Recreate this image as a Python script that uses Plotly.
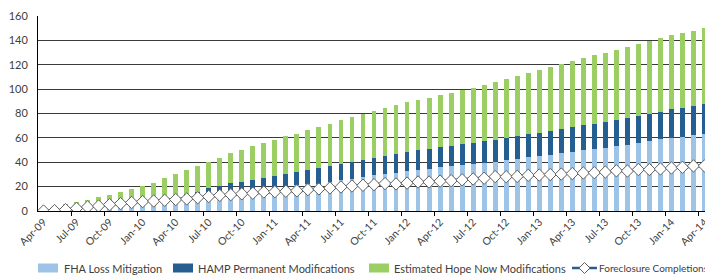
import plotly.graph_objects as go
import pandas as pd

# ---------------- data ----------------
months = [p.strftime("%b-%y") for p in pd.period_range("2009-04", "2014-04", freq="M")]

fha_loss_mitigation = [
    0.0, 0.1, 0.3, 0.6, 1.0, 1.5, 2.0, 2.7, 3.4, 4.2,
    5.0, 6.0, 8.5, 9.5, 10.5, 11.6, 13.0, 14.5, 16.0, 17.0,
    17.8, 19.0, 20.0, 21.0, 21.9, 22.5, 23.8, 25.6, 26.6, 27.9,
    29.3, 30.4, 31.5, 32.7, 33.8, 34.7, 35.9, 36.8, 37.9, 38.9,
    39.5, 40.5, 41.6, 43.0, 44.4, 45.2, 46.3, 47.7, 48.8, 50.1,
    50.7, 52.1, 53.2, 54.5, 56.2, 57.3, 58.9, 60.0, 61.1, 62.2,
    63.3]

hamp_permanent = [
    0.0, 0.1, 0.2, 0.2, 0.3, 0.5, 0.8, 1.1, 1.6, 2.3,
    3.3, 4.5, 4.5, 4.7, 5.1, 6.9, 7.4, 8.2, 8.0, 8.4,
    9.3, 9.8, 10.4, 11.0, 11.8, 12.8, 13.2, 13.3, 13.9, 14.3,
    14.3, 14.8, 15.3, 15.8, 16.3, 16.3, 16.6, 16.6, 16.9, 16.9,
    17.9, 17.9, 18.4, 18.4, 18.6, 19.2, 19.5, 19.7, 20.2, 20.3,
    20.8, 20.8, 21.6, 21.7, 21.9, 22.4, 22.7, 23.3, 23.6, 23.8,
    24.1]

hope_now = [
    0.5, 1.3, 5.3, 6.9, 8.1, 9.2, 10.3, 11.5, 12.7, 13.9,
    15.0, 16.4, 17.1, 19.2, 21.2, 22.0, 23.4, 24.5, 26.0, 27.7,
    28.8, 29.8, 30.8, 31.5, 32.5, 33.6, 34.6, 35.4, 36.4, 37.3,
    38.3, 39.2, 39.8, 40.8, 41.2, 42.1, 42.5, 43.6, 44.1, 45.3,
    45.9, 47.4, 48.2, 49.3, 49.9, 50.9, 52.0, 53.1, 53.7, 54.8,
    56.5, 57.0, 57.2, 58.3, 59.2, 59.8, 60.0, 60.8, 61.1, 61.7,
    62.5]

foreclosure_completions = [
    0.0, 0.3, 1.1, 2.2, 3.3, 4.1, 5.2, 6.1, 7.0, 7.7,
    8.2, 8.8, 9.4, 9.9, 10.9, 11.9, 12.8, 13.4, 14.1, 14.6,
    15.6, 15.8, 16.2, 16.6, 17.5, 18.1, 18.9, 19.7, 20.5, 21.1,
    21.6, 22.5, 22.2, 22.9, 23.8, 23.8, 24.5, 24.9, 25.6, 26.3,
    26.9, 28.2, 28.1, 28.4, 29.3, 29.5, 29.9, 30.3, 30.7, 31.2,
    31.4, 32.0, 33.0, 32.8, 34.0, 34.0, 34.5, 35.3, 35.9, 37.0,
    37.0]

series_names = ["FHA Loss Mitigation", "HAMP Permanent Modifications",
                "Estimated Hope Now Modifications", "Foreclosure Completions"]
y_ticks = [0, 20, 40, 60, 80, 100, 120, 140, 160]

# ---------------- style ----------------
C_LIGHT = "#9DC3E6"
C_DARK = "#255E91"
C_GREEN = "#9BCF63"
FONT = "Lato, 'Open Sans', sans-serif"
TXT = "#404040"

x_idx = list(range(len(months)))

fig = go.Figure()
for vals, name, col in [(fha_loss_mitigation, series_names[0], C_LIGHT),
                        (hamp_permanent, series_names[1], C_DARK),
                        (hope_now, series_names[2], C_GREEN)]:
    fig.add_trace(go.Bar(x=x_idx, y=vals, name=name, marker_color=col,
                         marker_line_width=0, showlegend=False))

fig.add_trace(go.Scatter(x=x_idx, y=foreclosure_completions, name=series_names[3],
                         mode="lines+markers",
                         line=dict(color=C_DARK, width=2.5),
                         marker=dict(symbol="diamond", size=9.5, color="white",
                                     line=dict(color="#5f5f5f", width=1)),
                         showlegend=False))

# the page body has an 8px margin, so the figure is sized / placed to compensate
label_idx = list(range(0, len(months), 3))
fig.update_layout(
    width=705, height=267,
    margin=dict(l=30, r=3, t=8, b=64, autoexpand=False),
    plot_bgcolor="white", paper_bgcolor="white",
    barmode="stack", bargap=0.56,
    font=dict(family=FONT, color=TXT, size=11),
    xaxis=dict(range=[-0.5, len(months) - 0.5], tickmode="array",
               tickvals=label_idx, ticktext=[months[i] for i in label_idx],
               tickangle=-45, ticks="", showgrid=False, zeroline=False,
               showline=True, linecolor="black", linewidth=1,
               automargin=False,
               tickfont=dict(size=10.5, color=TXT),
               minor=dict(tickmode="array",
                          tickvals=[i + 2.5 for i in range(0, len(months) - 1, 3)],
                          ticks="outside", ticklen=4, tickcolor="black",
                          showgrid=False)),
    yaxis=dict(range=[0, 160], tickvals=y_ticks, showgrid=True,
               gridcolor="#3a3a3a", gridwidth=1, zeroline=False,
               showline=True, linecolor="black", linewidth=1,
               ticks="", ticklabelstandoff=7, automargin=False,
               tickfont=dict(size=11, color=TXT)),
)

# ---------------- manual legend (positions in window pixels) ----------------
PL, PT, PW, PH = 38, 16, 672, 195


def px(x):
    return (x - PL) / PW


def py(y):
    return (PT + PH - y) / PH


leg_y = 268
shapes = []
annos = []
for (x0, x1, tx), col, name in zip([(38, 58, 62), (173, 193, 196), (369, 389, 392)],
                                   [C_LIGHT, C_DARK, C_GREEN], series_names[:3]):
    shapes.append(dict(type="rect", xref="paper", yref="paper",
                       x0=px(x0), x1=px(x1), y0=py(leg_y - 4.5), y1=py(leg_y + 4.5),
                       fillcolor=col, line=dict(width=0)))
    annos.append(dict(text=name, x=px(tx), y=py(leg_y), xref="paper", yref="paper",
                      xanchor="left", yanchor="middle", showarrow=False,
                      font=dict(size=11, color=TXT, family=FONT)))

# line + diamond legend item
shapes.append(dict(type="line", xref="paper", yref="paper",
                   x0=px(572), x1=px(597), y0=py(leg_y), y1=py(leg_y),
                   line=dict(color=C_DARK, width=2.5)))
cx, cy, r = 584.5, leg_y, 5.5
path = (f"M {px(cx - r)},{py(cy)} L {px(cx)},{py(cy - r)} "
        f"L {px(cx + r)},{py(cy)} L {px(cx)},{py(cy + r)} Z")
shapes.append(dict(type="path", xref="paper", yref="paper", path=path,
                   fillcolor="white", line=dict(color="#5f5f5f", width=1)))
annos.append(dict(text=series_names[3], x=px(597), y=py(leg_y), xref="paper",
                  yref="paper", xanchor="left", yanchor="middle", showarrow=False,
                  font=dict(size=10, color=TXT, family=FONT)))

fig.update_layout(shapes=shapes, annotations=annos)
fig.write_html("out.html")
